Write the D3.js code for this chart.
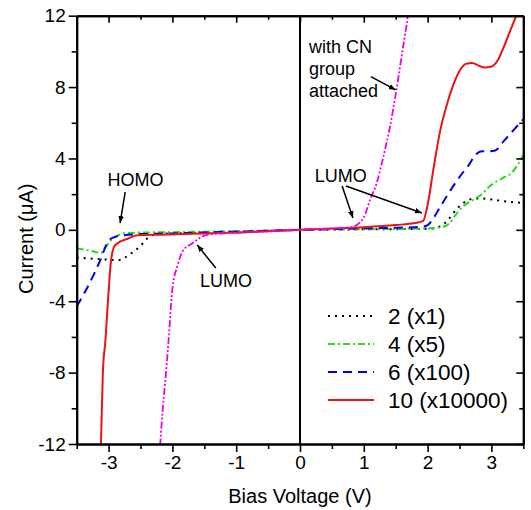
<!DOCTYPE html>
<html>
<head>
<meta charset="utf-8">
<script src="https://cdn.jsdelivr.net/npm/d3@7"></script>
<style>
  body { margin: 0; background: #fff; }
  text { font-family: "Liberation Sans", Arial, sans-serif; fill: #000; }
</style>
</head>
<body>
<div id="chart"></div>
<script>
// tick values
var xMajor = [-3, -2, -1, 0, 1, 2, 3];
var xMinor = [-3.5, -2.5, -1.5, -0.5, 0.5, 1.5, 2.5, 3.5];
var yMajor = [-12, -8, -4, 0, 4, 8, 12];
var yMinor = [-10, -6, -2, 2, 6, 10];

// series: 2 (x1)
var v2 = [-3.5, -3.3, -3.1, -2.85, -2.64, -2.5, -2.42, -2.32, -2.2, -2.0, -1.5, -1.0, -0.5, 0, 0.5, 1.0, 1.5, 2.0, 2.2, 2.32, 2.45, 2.6, 2.75, 2.85, 3.0, 3.2, 3.35, 3.5];
var i2 = [-1.55, -1.6, -1.65, -1.7, -1.3, -0.9, -0.57, -0.3, -0.22, -0.2, -0.15, -0.1, -0.05, 0, 0.02, 0.03, 0.04, 0.06, 0.2, 0.55, 1.15, 1.6, 1.76, 1.76, 1.7, 1.6, 1.55, 1.5];
// series: 4 (x5)
var v4 = [-3.5, -3.3, -3.12, -3.05, -2.96, -2.85, -2.74, -2.5, -2.0, -1.5, -1.0, -0.5, 0, 0.5, 1.0, 1.5, 2.0, 2.15, 2.27, 2.35, 2.43, 2.55, 2.72, 2.85, 2.96, 3.1, 3.2, 3.32, 3.42, 3.5];
var i4 = [-1.05, -1.15, -1.3, -1.0, -0.57, -0.3, -0.18, -0.15, -0.13, -0.1, -0.07, -0.04, 0, 0.02, 0.03, 0.05, 0.08, 0.12, 0.2, 0.4, 0.8, 1.3, 1.7, 2.0, 2.4, 2.75, 2.95, 3.2, 3.7, 4.2];
// series: 6 (x100)
var v6 = [-3.5, -3.3, -3.13, -3.0, -2.9, -2.8, -2.6, -2.3, -2.0, -1.5, -1.0, -0.5, 0, 0.5, 1.0, 1.5, 1.9, 2.0, 2.1, 2.2, 2.32, 2.45, 2.55, 2.64, 2.75, 2.85, 2.95, 3.06, 3.2, 3.35, 3.5];
var i6 = [-4.3, -3.0, -1.7, -0.6, -0.4, -0.32, -0.25, -0.22, -0.2, -0.15, -0.1, -0.05, 0, 0.04, 0.08, 0.12, 0.17, 0.27, 0.7, 1.3, 2.0, 2.7, 3.2, 3.6, 4.2, 4.4, 4.4, 4.45, 5.0, 5.6, 6.2];
// series: 10 (x10000)
var v10 = [-3.15, -3.12, -3.09, -3.05, -3.01, -2.97, -2.92, -2.86, -2.7, -2.55, -2.2, -1.5, -1.0, -0.5, 0, 0.5, 1.0, 1.5, 1.8, 1.93, 2.0, 2.1, 2.2, 2.3, 2.4, 2.5, 2.6, 2.7, 2.8, 2.9, 3.0, 3.1, 3.2, 3.3, 3.4];
var i10 = [-14, -12, -8, -6.2, -4, -2, -1.0, -0.75, -0.5, -0.3, -0.27, -0.2, -0.15, -0.08, 0, 0.07, 0.15, 0.27, 0.38, 0.5, 1.4, 3.6, 5.6, 7.0, 8.1, 8.9, 9.3, 9.35, 9.2, 9.1, 9.15, 9.5, 10.3, 11.2, 12.1];
// with CN group attached
var vCN = [-2.22, -2.19, -2.15, -2.1, -2.06, -2.0, -1.92, -1.84, -1.68, -1.52, -1.4, -1.0, -0.5, 0, 0.5, 0.8, 0.9, 1.0, 1.1, 1.2, 1.3, 1.4, 1.5, 1.6, 1.7, 1.75];
var iCN = [-14, -12, -10, -8, -6.2, -3.3, -2.0, -1.2, -0.74, -0.35, -0.25, -0.17, -0.09, 0, 0.08, 0.15, 0.3, 0.7, 1.7, 2.6, 4.0, 5.6, 7.6, 9.9, 12.3, 14];

var legendNames = ["2 (x1)", "4 (x5)", "6 (x100)", "10 (x10000)"];

var width = 531, height = 510;
var margin = {top: 15.7, right: 7.7, bottom: 66, left: 76.7};

var svg = d3.select("#chart").append("svg")
    .attr("width", width)
    .attr("height", height);

var x = d3.scaleLinear().domain([-3.5, 3.5]).range([margin.left, width - margin.right]);
var y = d3.scaleLinear().domain([-12, 12]).range([height - margin.bottom, margin.top]);

svg.append("clipPath").attr("id", "clip")
    .append("rect")
    .attr("x", x(-3.5)).attr("y", y(12))
    .attr("width", x(3.5) - x(-3.5)).attr("height", y(-12) - y(12));

var defs = svg.append("defs");
defs.append("marker")
    .attr("id", "arrow")
    .attr("viewBox", "0 0 10 10")
    .attr("refX", 10).attr("refY", 5)
    .attr("markerWidth", 7).attr("markerHeight", 7)
    .attr("markerUnits", "userSpaceOnUse")
    .attr("orient", "auto")
    .append("path")
    .attr("d", "M0,1 L10,5 L0,9 Z")
    .attr("fill", "#000");

// zero line
svg.append("line")
    .attr("x1", x(0)).attr("x2", x(0))
    .attr("y1", y(12)).attr("y2", y(-12))
    .attr("stroke", "#000").attr("stroke-width", 2);

var series = [
    {v: v2, i: i2, color: "#000000", dash: "2,5", width: 2},
    {v: v4, i: i4, color: "#22dd22", dash: "7,3,2,3", width: 2},
    {v: v6, i: i6, color: "#0000ee", dash: "9,6", width: 2},
    {v: v10, i: i10, color: "#ee1111", dash: null, width: 2},
    {v: vCN, i: iCN, color: "#ee00ee", dash: "7,2,2,2,2,2", width: 1.8}
];

var line = d3.line()
    .x(function (d) { return x(d[0]); })
    .y(function (d) { return y(d[1]); })
    .curve(d3.curveMonotoneX);

var gLines = svg.append("g").attr("clip-path", "url(#clip)");
series.forEach(function (s) {
    gLines.append("path")
        .datum(s.v.map(function (v, k) { return [v, s.i[k]]; }))
        .attr("fill", "none")
        .attr("stroke", s.color)
        .attr("stroke-width", s.width)
        .attr("stroke-dasharray", s.dash)
        .attr("d", line);
});

// axes
function styleAxis(g) {
    g.selectAll("path.domain").attr("stroke-width", 2);
    g.selectAll(".tick line").attr("stroke-width", 1.6);
    g.selectAll(".tick text")
        .style("font-family", "'Liberation Sans', Arial, sans-serif")
        .style("font-size", "19px");
}
var fmt = function (d) { return String(d); };

svg.append("g").attr("transform", `translate(0,${y(-12)})`)
    .call(d3.axisBottom(x).tickValues(xMajor).tickFormat(fmt).tickSizeInner(8).tickSizeOuter(0).tickPadding(4))
    .call(styleAxis);
svg.append("g").attr("transform", `translate(0,${y(-12)})`)
    .call(d3.axisBottom(x).tickValues(xMinor).tickFormat("").tickSizeInner(5).tickSizeOuter(0))
    .call(styleAxis);
svg.append("g").attr("transform", `translate(0,${y(12)})`)
    .call(d3.axisTop(x).tickValues(xMajor).tickFormat("").tickSizeInner(-7).tickSizeOuter(0))
    .call(styleAxis);
svg.append("g").attr("transform", `translate(0,${y(12)})`)
    .call(d3.axisTop(x).tickValues(xMinor).tickFormat("").tickSizeInner(-4).tickSizeOuter(0))
    .call(styleAxis);
svg.append("g").attr("transform", `translate(${x(-3.5)},0)`)
    .call(d3.axisLeft(y).tickValues(yMajor).tickFormat(fmt).tickSizeInner(8).tickSizeOuter(0).tickPadding(3))
    .call(styleAxis);
svg.append("g").attr("transform", `translate(${x(-3.5)},0)`)
    .call(d3.axisLeft(y).tickValues(yMinor).tickFormat("").tickSizeInner(5).tickSizeOuter(0))
    .call(styleAxis);
svg.append("g").attr("transform", `translate(${x(3.5)},0)`)
    .call(d3.axisRight(y).tickValues(yMajor).tickFormat("").tickSizeInner(-7).tickSizeOuter(0))
    .call(styleAxis);
svg.append("g").attr("transform", `translate(${x(3.5)},0)`)
    .call(d3.axisRight(y).tickValues(yMinor).tickFormat("").tickSizeInner(-4).tickSizeOuter(0))
    .call(styleAxis);

// axis titles
svg.append("text")
    .attr("x", x(0)).attr("y", 503)
    .attr("text-anchor", "middle")
    .style("font-size", "20px")
    .text("Bias Voltage (V)");
svg.append("text")
    .attr("transform", `translate(33,${y(-0.5)}) rotate(-90)`)
    .attr("text-anchor", "middle")
    .style("font-size", "20px")
    .text("Current (μA)");

// legend
var legend = svg.append("g");
legendNames.forEach(function (name, k) {
    var s = series[k];
    var ly = 316 + k * 28;
    legend.append("line")
        .attr("x1", 328).attr("x2", 374)
        .attr("y1", ly).attr("y2", ly)
        .attr("stroke", s.color)
        .attr("stroke-width", s.width)
        .attr("stroke-dasharray", s.dash);
    legend.append("text")
        .attr("x", 388).attr("y", ly + 8)
        .style("font-size", "22.5px")
        .text(name);
});

// annotations
function note(label, vx, iy, anchor) {
    svg.append("text")
        .attr("x", x(vx)).attr("y", y(iy))
        .attr("text-anchor", anchor || "middle")
        .style("font-size", "18px")
        .text(label);
}
function arrow(v1, i1, v2, i2) {
    svg.append("line")
        .attr("x1", x(v1)).attr("y1", y(i1))
        .attr("x2", x(v2)).attr("y2", y(i2))
        .attr("stroke", "#000").attr("stroke-width", 1.5)
        .attr("marker-end", "url(#arrow)");
}
note("HOMO", -2.58, 2.46);
arrow(-2.74, 2.12, -2.82, 0.38);
note("LUMO", -1.16, -3.2);
arrow(-1.32, -2.14, -1.61, -0.85);
note("LUMO", 0.64, 2.68);
arrow(0.66, 2.46, 0.83, 0.66);
arrow(0.72, 2.46, 1.91, 0.94);
note("with CN", 0.14, 9.9, "start");
note("group", 0.14, 8.68, "start");
note("attached", 0.14, 7.45, "start");
arrow(1.11, 8.59, 1.5, 7.84);
</script>
</body>
</html>
